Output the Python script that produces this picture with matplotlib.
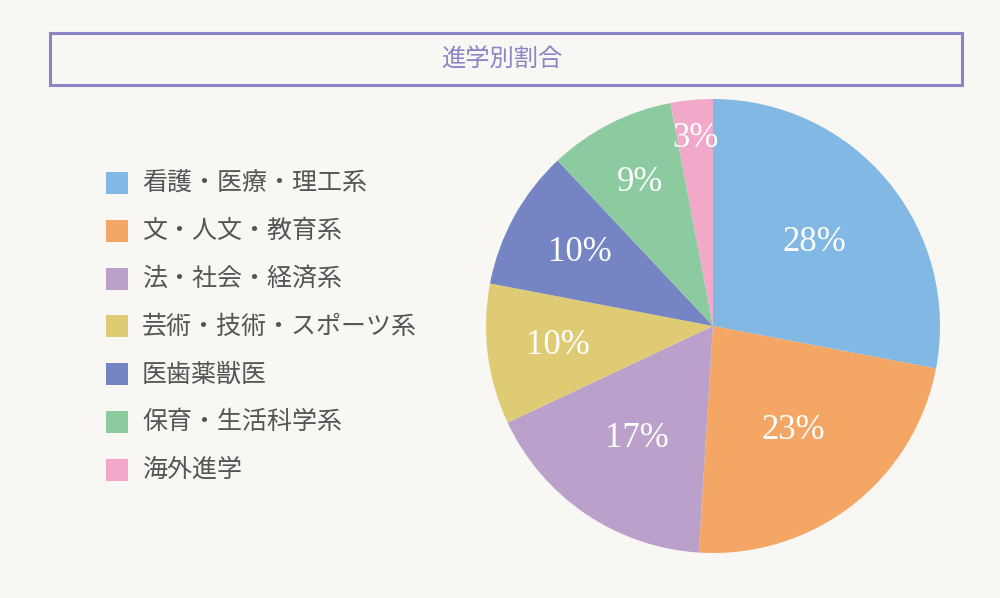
import numpy as np
import matplotlib
matplotlib.use("Agg")
import matplotlib.pyplot as plt
from matplotlib.patches import Rectangle

plt.rcParams["font.family"] = ["Noto Sans CJK JP", "DejaVu Sans"]

TITLE = "進学別割合"
CATEGORIES = [
    "看護・医療・理工系",
    "文・人文・教育系",
    "法・社会・経済系",
    "芸術・技術・スポーツ系",
    "医歯薬獣医",
    "保育・生活科学系",
    "海外進学",
]
SHARES = [28, 23, 17, 10, 10, 9, 3]

COLORS = ["#82b8e4", "#f4a664", "#bba0cc", "#e0cb75", "#7584c2", "#8ccba0", "#f2a8c8"]
LABEL_RADII = [0.58, 0.58, 0.60, 0.69, 0.67, 0.71, 0.83]
BG = "#f8f7f3"
ACCENT = "#8a86c6"

W, H = 1000, 598


def main():
    fig = plt.figure(figsize=(W / 100, H / 100), dpi=100)
    fig.patch.set_facecolor(BG)

    # title box
    fig.patches.append(Rectangle(
        (50 / W, 1 - 85 / H), 912 / W, 52 / H,
        transform=fig.transFigure, fill=False,
        edgecolor=ACCENT, linewidth=2.2
    ))
    fig.text(502 / W, 1 - 59 / H, TITLE, ha="center", va="center",
             fontsize=17.5, color=ACCENT)

    # legend
    row_y = 183
    for label, color in zip(CATEGORIES, COLORS):
        fig.patches.append(Rectangle(
            (106 / W, 1 - (row_y + 11) / H), 22 / W, 22 / H,
            transform=fig.transFigure, facecolor=color, edgecolor="none"
        ))
        fig.text(142 / W, 1 - row_y / H, label, ha="left", va="center",
                 fontsize=18, color="#555555")
        row_y += 47.8

    # pie
    cx, cy, r = 713, 326, 227
    ax = fig.add_axes([(cx - r) / W, 1 - (cy + r) / H, 2 * r / W, 2 * r / H])
    wedges, texts, autotexts = ax.pie(
        SHARES, colors=COLORS, startangle=90, counterclock=False,
        radius=1, autopct="%d%%", pctdistance=0.6,
        wedgeprops={"linewidth": 0}
    )
    for w, t, rad in zip(wedges, autotexts, LABEL_RADII):
        ang = np.deg2rad((w.theta1 + w.theta2) / 2)
        t.set_position((rad * np.cos(ang), rad * np.sin(ang)))
        t.set_color("white")
        t.set_fontsize(25)
        t.set_family(["Liberation Serif", "DejaVu Serif"])
    ax.set_xlim(-1, 1)
    ax.set_ylim(-1, 1)
    ax.set_aspect("equal")
    ax.axis("off")

    fig.savefig("out.png", dpi=100, facecolor=BG)
    plt.close(fig)


if __name__ == "__main__":
    main()
